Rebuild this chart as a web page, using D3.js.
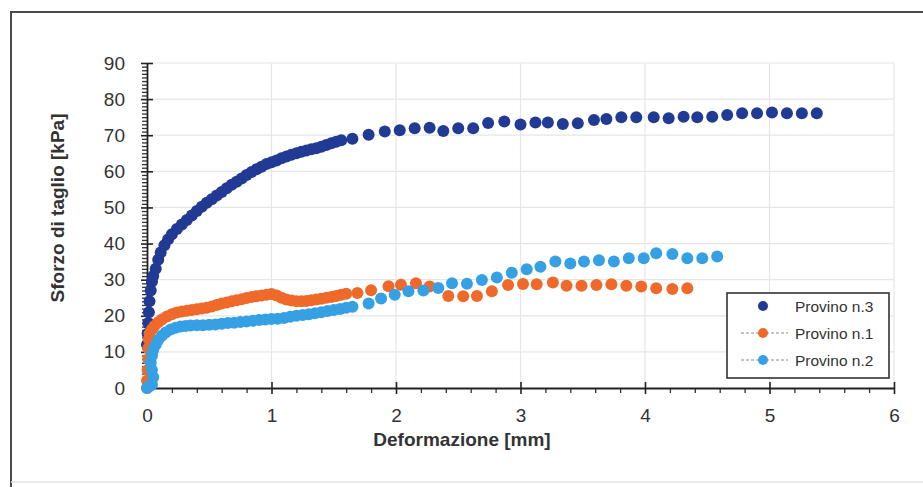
<!DOCTYPE html>
<html><head><meta charset="utf-8">
<script src="https://cdn.jsdelivr.net/npm/d3@7"></script>
<style>body{margin:0;background:#fff}svg{display:block}text{font-family:"Liberation Sans",Arial,sans-serif}</style>
</head><body>
<script>
// ---- data ----
const seriesNames = ["Provino n.3", "Provino n.1", "Provino n.2"];
const seriesColors = ["#213a94", "#ef6a2a", "#36a0e4"];
const xTicks = [0, 1, 2, 3, 4, 5, 6];
const yTicks = [0, 10, 20, 30, 40, 50, 60, 70, 80, 90];

const provino3 = [
 [0.00,12],[0.005,15],[0.01,18],[0.015,21],[0.02,24],[0.03,27],[0.04,29.5],[0.05,31],[0.07,33],[0.09,35.5],
 [0.11,37.5],[0.14,39.5],[0.17,41.2],[0.20,42.6],[0.24,44],[0.28,45.3],[0.32,46.5],[0.36,47.8],[0.40,49],
 [0.44,50.2],[0.48,51.3],[0.52,52.3],[0.56,53.3],[0.60,54.3],[0.64,55.3],[0.68,56.3],[0.72,57.1],[0.76,58],
 [0.80,59],[0.84,59.8],[0.88,60.6],[0.92,61.3],[0.96,62],[1.00,62.5],[1.04,63],[1.08,63.6],[1.12,64.1],
 [1.16,64.6],[1.20,65],[1.24,65.4],[1.28,65.8],[1.32,66.1],[1.36,66.4],[1.40,66.8],[1.44,67.3],[1.48,67.8],
 [1.52,68.2],[1.56,68.6],
 [1.65,69.0],[1.78,70.1],[1.91,71.0],[2.03,71.4],[2.15,71.9],[2.27,72.1],[2.38,71.2],[2.50,71.9],[2.62,71.9],
 [2.74,73.4],[2.87,73.8],[3.00,73.0],[3.12,73.5],[3.22,73.5],[3.34,73.1],[3.46,73.3],[3.59,74.2],[3.69,74.5],
 [3.81,75.0],[3.93,75.0],[4.07,75.0],[4.19,74.7],[4.31,75.1],[4.42,75.0],[4.54,75.1],[4.66,75.6],[4.78,76.1],
 [4.90,76.1],[5.02,76.3],[5.14,76.1],[5.26,76.1],[5.38,76.1]
];
const provino1 = [
 [0.00,0],[0.00,2],[0.005,5],[0.01,8],[0.01,11],[0.015,13.5],[0.02,15],[0.04,16.3],[0.06,17.2],[0.09,18.2],
 [0.12,19],[0.16,19.8],[0.20,20.4],[0.24,20.9],[0.28,21.2],[0.32,21.4],[0.36,21.6],[0.40,21.8],[0.44,22.0],
 [0.48,22.2],[0.52,22.6],[0.56,23.0],[0.60,23.4],[0.64,23.7],[0.68,24.0],[0.72,24.3],[0.76,24.6],[0.80,24.9],
 [0.84,25.2],[0.88,25.4],[0.92,25.6],[0.96,25.8],[1.00,26.0],[1.04,25.6],[1.08,25.0],[1.12,24.5],[1.16,24.2],
 [1.20,24.0],[1.24,24.0],[1.28,24.1],[1.32,24.3],[1.36,24.5],[1.40,24.7],[1.44,25.0],[1.48,25.2],[1.52,25.5],
 [1.56,25.8],[1.60,26.1],
 [1.69,26.3],[1.80,27.1],[1.94,28.2],[2.04,28.6],[2.16,29.0],[2.27,28.1],[2.42,25.5],[2.54,25.4],[2.65,25.5],
 [2.77,26.8],[2.90,28.5],[3.02,28.8],[3.13,28.7],[3.26,29.2],[3.37,28.3],[3.49,28.3],[3.61,28.5],[3.73,28.7],
 [3.85,28.3],[3.97,28.1],[4.09,27.6],[4.22,27.4],[4.34,27.6]
];
const provino2 = [
 [0.00,0],[0.02,0.5],[0.04,1],[0.05,3],[0.04,5],[0.03,7],[0.04,9],[0.05,10.5],[0.07,12],[0.09,13.3],
 [0.12,14.5],[0.15,15.4],[0.19,16.2],[0.23,16.7],[0.27,17.0],[0.31,17.2],[0.35,17.3],[0.40,17.4],[0.45,17.4],
 [0.50,17.5],[0.55,17.6],[0.60,17.8],[0.65,18.0],[0.70,18.1],[0.75,18.3],[0.80,18.4],[0.85,18.6],[0.90,18.8],
 [0.95,19.0],[1.00,19.1],[1.05,19.2],[1.10,19.4],[1.15,19.7],[1.20,20.0],[1.25,20.2],[1.30,20.4],[1.35,20.7],
 [1.40,21.0],[1.45,21.3],[1.50,21.6],[1.55,21.9],[1.60,22.2],[1.65,22.5],
 [1.78,23.4],[1.88,24.8],[1.99,25.8],[2.10,26.8],[2.22,27.0],[2.34,27.7],[2.45,29.0],[2.57,28.9],[2.69,29.9],
 [2.81,30.6],[2.93,31.9],[3.05,32.9],[3.16,33.6],[3.28,35.0],[3.40,34.5],[3.51,35.0],[3.63,35.4],[3.75,35.0],
 [3.87,35.9],[3.99,35.9],[4.09,37.3],[4.22,37.1],[4.34,35.9],[4.46,35.9],[4.58,36.4]
];
const seriesData = [provino3, provino1, provino2];

// ---- drawing ----
const W = 923, H = 487;
const svg = d3.select("body").append("svg").attr("width", W).attr("height", H);
svg.append("rect").attr("width", W).attr("height", H).attr("fill", "#fff");

// outer frame
svg.append("path").attr("d", `M11,${H} L11,12 L${W},12`).attr("fill","none").attr("stroke","#4a4a4a").attr("stroke-width",2);
svg.append("line").attr("x1",11).attr("x2",W).attr("y1",482).attr("y2",482).attr("stroke","#e2e2e2").attr("stroke-width",1.5);

const x = d3.scaleLinear().domain([0, 6]).range([147, 894]);
const y = d3.scaleLinear().domain([0, 90]).range([388, 63]);

// gridlines
const grid = svg.append("g").attr("stroke", "#e6e6e6").attr("stroke-width", 1.2);
yTicks.filter(d => d > 0).forEach(d => grid.append("line").attr("x1", x(0)).attr("x2", x(6)).attr("y1", y(d)).attr("y2", y(d)));
xTicks.filter(d => d > 0).forEach(d => grid.append("line").attr("x1", x(d)).attr("x2", x(d)).attr("y1", y(0)).attr("y2", y(90)));

// minor ticks
const xMinor = d3.range(0, 6.0001, 0.2).filter(v => Math.abs(v - Math.round(v)) > 1e-6);
const yMinor = d3.range(0, 90.0001, 1).filter(v => v % 10 !== 0);
svg.append("g").attr("transform", `translate(0,${y(0)})`)
  .call(d3.axisBottom(x).tickValues(xMinor).tickSize(5).tickFormat(""))
  .call(g => g.select(".domain").remove())
  .selectAll("line").attr("stroke", "#333").attr("stroke-width", 1.3);
svg.append("g").attr("transform", `translate(${x(0)},0)`)
  .call(d3.axisLeft(y).tickValues(yMinor).tickSize(5).tickFormat(""))
  .call(g => g.select(".domain").remove())
  .selectAll("line").attr("stroke", "#333").attr("stroke-width", 1.3);

// major axes
const xAxis = svg.append("g").attr("transform", `translate(0,${y(0)})`)
  .call(d3.axisBottom(x).tickValues(xTicks).tickFormat(d3.format("d")).tickSize(6).tickPadding(15).tickSizeOuter(0));
xAxis.select(".domain").attr("stroke", "#222").attr("stroke-width", 1.8);
xAxis.selectAll(".tick line").attr("y1", -6).attr("stroke", "#222").attr("stroke-width", 1.6);
xAxis.selectAll(".tick text").attr("font-size", 19).attr("fill", "#333")
  .style("font-family", '"Liberation Sans", Arial, sans-serif');

const yAxis = svg.append("g").attr("transform", `translate(${x(0)},0)`)
  .call(d3.axisLeft(y).tickValues(yTicks).tickFormat(d3.format("d")).tickSize(6).tickPadding(16).tickSizeOuter(0));
yAxis.select(".domain").attr("stroke", "#222").attr("stroke-width", 1.8);
yAxis.selectAll(".tick line").attr("x1", 6).attr("stroke", "#222").attr("stroke-width", 1.6);
yAxis.selectAll(".tick text").attr("font-size", 19).attr("fill", "#333")
  .style("font-family", '"Liberation Sans", Arial, sans-serif');

// axis titles
svg.append("text").attr("x", 462).attr("y", 446).attr("text-anchor", "middle")
  .attr("font-size", 19).attr("font-weight", "bold").attr("fill", "#333").text("Deformazione [mm]");
svg.append("text").attr("transform", "translate(64,208) rotate(-90)").attr("text-anchor", "middle")
  .attr("font-size", 19).attr("font-weight", "bold").attr("fill", "#333").text("Sforzo di taglio [kPa]");

// points
const R = 6;
seriesData.forEach((data, i) => {
  svg.append("g").selectAll("circle").data(data).join("circle")
    .attr("cx", d => x(d[0])).attr("cy", d => y(d[1])).attr("r", R)
    .attr("fill", seriesColors[i]);
});

// legend
const lg = svg.append("g");
lg.append("rect").attr("x", 727).attr("y", 293).attr("width", 162).attr("height", 85)
  .attr("fill", "#fff").attr("stroke", "#333").attr("stroke-width", 1.6);
seriesNames.forEach((name, i) => {
  const cy = 306 + i * 27;
  if (i > 0) {
    lg.append("line").attr("x1", 741).attr("x2", 788).attr("y1", cy).attr("y2", cy)
      .attr("stroke", "#888").attr("stroke-width", 1).attr("stroke-dasharray", "3,2");
  }
  lg.append("circle").attr("cx", 763).attr("cy", cy).attr("r", 5).attr("fill", seriesColors[i]);
  lg.append("text").attr("x", 795).attr("y", cy + 5.5).attr("font-size", 15.5).attr("fill", "#333").text(name);
});
</script>
</body></html>
